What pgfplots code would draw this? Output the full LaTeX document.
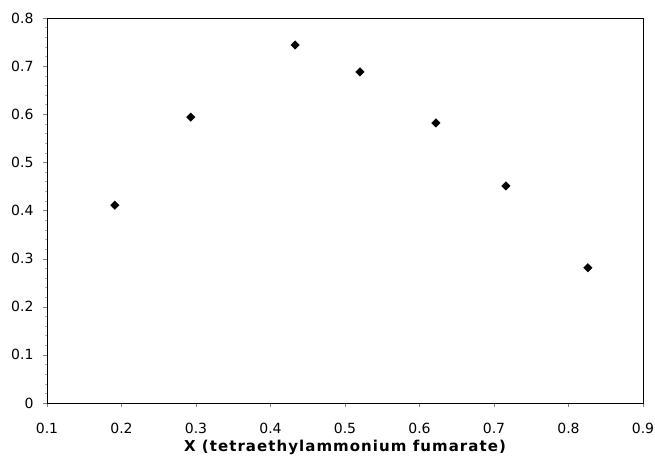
\documentclass[border=0pt]{standalone}
\usepackage{fontspec}
\setmainfont{DejaVu Sans}
\newfontfamily\labfont[LetterSpace=7]{DejaVu Sans}
\usepackage{pgfplots}
\pgfplotsset{compat=1.18}
\begin{document}
\begin{tikzpicture}
\begin{axis}[
  name=ax,
  scale only axis,
  width=596bp, height=385bp,
  xmin=0.1, xmax=0.9, ymin=0, ymax=0.8,
  xtick={0.1,0.2,...,0.9},
  ytick={0,0.1,...,0.8},
  /pgf/number format/assume math mode=true,
  xticklabel={\pgfmathprintnumber[fixed,precision=1]{\tick}},
  yticklabel={\pgfmathprintnumber[fixed,precision=1]{\tick}},
  tick label style={font=\fontsize{14bp}{15bp}\selectfont},
  xticklabel style={yshift=-13bp},
  yticklabel style={xshift=-6bp},
  tick align=outside,
  major tick length=4bp,
  minor y tick num=4,
  minor tick length=2bp,
  every minor tick/.style={gray!60, thin},
  xtick pos=bottom,
  ytick pos=left,
  axis line style={black, line width=0.8bp},
  xlabel={\labfont\bfseries X (tetraethylammonium fumarate)},
  xlabel style={font=\fontsize{15bp}{17bp}\selectfont, yshift=1bp},
]
\addplot[only marks, mark=square*, mark size=3bp, mark options={rotate=45}, black] coordinates {
  (0.191,0.411)
  (0.293,0.594)
  (0.433,0.744)
  (0.520,0.688)
  (0.622,0.582)
  (0.716,0.451)
  (0.826,0.281)
};
\end{axis}
\pgfresetboundingbox
\path[use as bounding box] ([xshift=-47bp,yshift=-57bp]ax.south west) rectangle ([xshift=12bp,yshift=18bp]ax.north east);
\end{tikzpicture}
\end{document}
